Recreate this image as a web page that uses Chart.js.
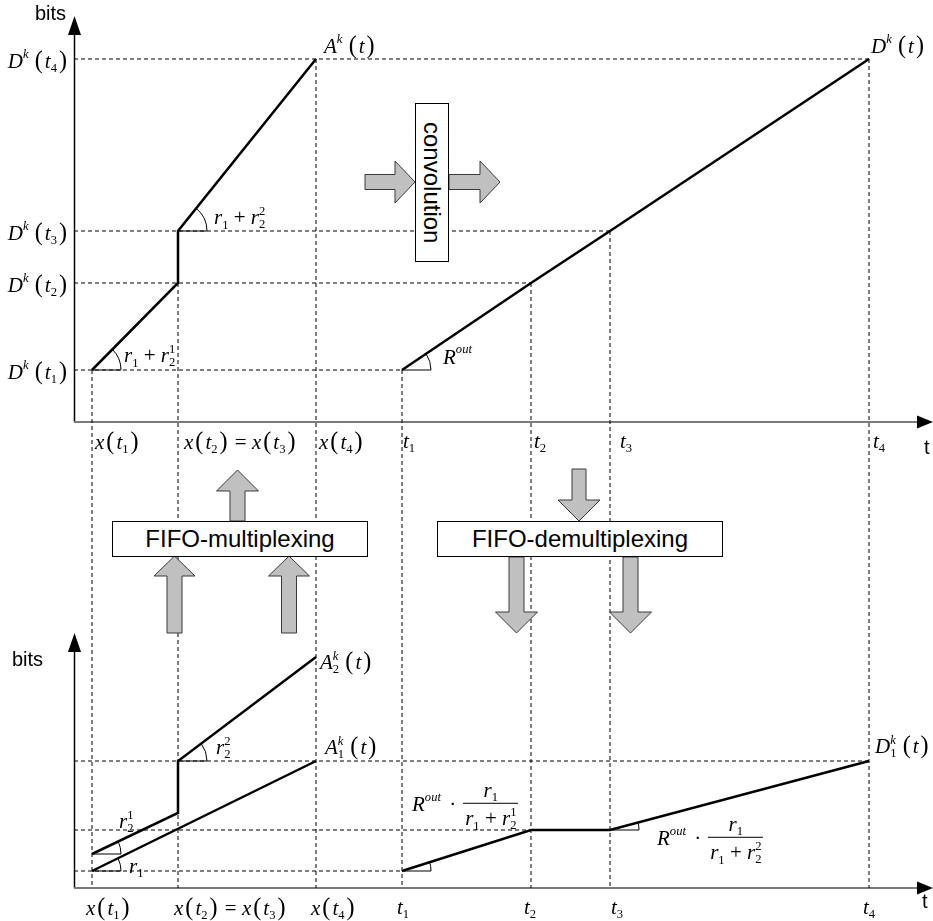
<!DOCTYPE html>
<html><head><meta charset="utf-8">
<script src="https://cdn.jsdelivr.net/npm/chart.js@4.4.1/dist/chart.umd.min.js"></script>
<style>
html,body{margin:0;padding:0;background:#fff}
#wrap{position:relative;width:933px;height:921px;overflow:hidden}
#c{position:absolute;left:0;top:0}
.lbl{position:absolute;white-space:nowrap;line-height:1;font-family:'Liberation Serif','Times New Roman',serif;font-size:21px;color:#000}
.lbl i{font-style:italic}
.lbl sup{font-size:0.6em;vertical-align:0.8em;line-height:0}
.lbl sub{font-size:0.6em;vertical-align:-0.35em;line-height:0}
.lbl .ss{display:inline-flex;flex-direction:column;font-size:0.6em;line-height:1.05;vertical-align:0.75em}
.lbl .p{font-size:1.15em;margin:0 2px;font-style:normal}
.lbl .fr{display:inline-flex;flex-direction:column;align-items:center;vertical-align:middle;margin-left:3px}
.lbl .fr .num{padding-bottom:2px}
.lbl .fr .den{border-top:1px solid #000;padding:2px 2px 0}
.lbl .op{margin:0 4px}
.sans{position:absolute;font-family:'Liberation Sans',Arial,sans-serif;font-size:20px;line-height:1;white-space:nowrap;color:#000}
.box{position:absolute;background:#fff;border:1px solid #000;box-sizing:border-box;display:flex;align-items:center;justify-content:center;font-family:'Liberation Sans',Arial,sans-serif;font-size:24px;color:#000}
.vert{writing-mode:vertical-rl}
svg{position:absolute;left:0;top:0}
</style></head>
<body>
<div id="wrap">
<canvas id="c" width="933" height="921"></canvas>
<svg id="arrows" width="933" height="921"></svg>
<div class="box vert" style="left:415px;top:103px;width:34px;height:159px">convolution</div>
<div class="box" style="left:112px;top:521px;width:256px;height:36px">FIFO-multiplexing</div>
<div class="box" style="left:437px;top:521px;width:286px;height:36px">FIFO-demultiplexing</div>
<div id="labels"></div>
</div>
<script>
// ---------- data (time units / bit units) ----------
const X_POINTS = [1.8, 10.4, 24.2];            // x(t1), x(t2)=x(t3), x(t4)
const T_POINTS = [32.8, 45.7, 53.6, 79.5];     // t1 .. t4
const D_LEVELS = [5.2, 13.9, 19.1, 36.3];      // D^k(t1) .. D^k(t4)
const A_K   = [5.2, 13.9, 19.1, 36.3];         // A^k at x(t1), x(t2), x(t3), x(t4)
const D_K   = [5.2, 13.9, 19.1, 36.3];         // D^k at t1 .. t4
const A1_K  = [1.7, 12.7];                     // A_1^k at x(t1), x(t4)
const A2_K  = [3.4, 7.5, 12.7, 23.1];          // A_2^k at x(t1), x(t2), x(t3), x(t4)
const D1_K  = [1.7, 5.8, 5.8, 12.7];           // D_1^k at t1 .. t4
const Y_TICK_LABELS = ['D^{k} (t_{1})', 'D^{k} (t_{2})', 'D^{k} (t_{3})', 'D^{k} (t_{4})'];
const X_TICK_LABELS = ['x(t_{1})', 'x(t_{2})=x(t_{3})', 'x(t_{4})', 't_{1}', 't_{2}', 't_{3}', 't_{4}'];

// ---------- axes extents ----------
const X_MAX = 85.9, TOP_MIN = -46.6, TOP_MAX = 40.8, BOT_MAX = 87.4;
const TOP_AXIS_TIP = 40.6, BOT_AXIS_TIP = 25.5, X_AXIS_TIP = 85.9;

// ---------- tiny math formatter ----------
function tex(s){
  let i=0,out='';
  const grp=()=>{ if(s[i]==='{'){let d=1,j=i+1;while(d>0){if(s[j]==='{')d++;else if(s[j]==='}')d--;j++;}const g=s.slice(i+1,j-1);i=j;return g;} return s[i++]; };
  while(i<s.length){
    const c=s[i];
    if(c==='\\'){ let j=i+1; while(j<s.length&&/[a-z]/.test(s[j]))j++; const cmd=s.slice(i+1,j); i=j;
      if(cmd==='frac'){const a=grp(),b=grp(); out+=`<span class="fr"><span class="num">${tex(a)}</span><span class="den">${tex(b)}</span></span>`;}
      else if(cmd==='cdot'){ out+='<span class="op">·</span>'; }
      continue; }
    if(c==='^'||c==='_'){ let sup=null,sub=null;
      while(s[i]==='^'||s[i]==='_'){const t=s[i++];const g=grp(); if(t==='^')sup=g; else sub=g;}
      if(sup!==null&&sub!==null) out+=`<span class="ss"><span>${tex(sup)}</span><span>${tex(sub)}</span></span>`;
      else if(sup!==null) out+=`<sup>${tex(sup)}</sup>`; else out+=`<sub>${tex(sub)}</sub>`;
      continue; }
    if(/[A-Za-z]/.test(c)){ out+=`<i>${c}</i>`; i++; continue; }
    if(c==='('||c===')'){ out+=`<span class="p">${c}</span>`; i++; continue; }
    if(c===' '){ out+='\u2009'; i++; continue; }
    if(c==='+'||c==='='){ out+=`\u2005${c}\u2005`; i++; continue; }
    out+=c; i++;
  }
  return out;
}

// ---------- datasets ----------
const P=(xs,ys)=>xs.map((x,k)=>({x,y:ys[k]}));
const solid=(label,data,axis)=>({label,data,yAxisID:axis,showLine:true,pointRadius:0,borderColor:'#000',borderWidth:2.5,tension:0,fill:false,clip:false,order:1});
const dashed=(label,data,axis)=>({label,data,yAxisID:axis,showLine:true,pointRadius:0,borderColor:'#000',borderWidth:1,borderDash:[4,3],tension:0,fill:false,clip:false,order:10});

const datasets=[];
// top guides
D_LEVELS.forEach((v,k)=>datasets.push(dashed('hTop'+k,[{x:0,y:v},{x:T_POINTS[k],y:v}],'yTop')));
const xFrom=[D_LEVELS[0],D_LEVELS[1],D_LEVELS[3]];
X_POINTS.forEach((x,k)=>datasets.push(dashed('vX'+k,[{x,y:xFrom[k]},{x,y:TOP_MIN}],'yTop')));
T_POINTS.forEach((x,k)=>datasets.push(dashed('vT'+k,[{x,y:D_LEVELS[k]},{x,y:TOP_MIN}],'yTop')));
// bottom guides
[[D1_K[0],T_POINTS[0]],[D1_K[2],T_POINTS[2]],[D1_K[3],T_POINTS[3]]].forEach(([v,x],k)=>
  datasets.push(dashed('hBot'+k,[{x:0,y:v},{x,y:v}],'yBot')));
// curves
datasets.push(solid('Ak',P([X_POINTS[0],X_POINTS[1],X_POINTS[1],X_POINTS[2]],A_K),'yTop'));
datasets.push(solid('Dk',P(T_POINTS,D_K),'yTop'));
datasets.push(solid('A1k',P([X_POINTS[0],X_POINTS[2]],A1_K),'yBot'));
datasets.push(solid('A2k',P([X_POINTS[0],X_POINTS[1],X_POINTS[1],X_POINTS[2]],A2_K),'yBot'));
datasets.push(solid('D1k',P(T_POINTS,D1_K),'yBot'));

// angle marks: [dataset label, vertex index]
const ANGLE_MARKS=[['Ak',0],['Ak',2],['Dk',0],['A1k',0],['A2k',0],['A2k',2],['D1k',0],['D1k',2]];

const drawPlugin={
  id:'diagram',
  beforeDatasetsDraw(chart){
    const ctx=chart.ctx, xs=chart.scales.x;
    const x0=xs.getPixelForValue(0), xe=xs.getPixelForValue(X_AXIS_TIP);
    [['yTop',TOP_AXIS_TIP],['yBot',BOT_AXIS_TIP]].forEach(([id,tip])=>{
      const ys=chart.scales[id], y0=ys.getPixelForValue(0), yt=ys.getPixelForValue(tip);
      ctx.save();
      ctx.strokeStyle='#000'; ctx.lineWidth=1.5;
      ctx.beginPath(); ctx.moveTo(x0+0.5,y0); ctx.lineTo(x0+0.5,yt+10); ctx.stroke();
      ctx.strokeStyle='#7a7a7a'; ctx.lineWidth=2;
      ctx.beginPath(); ctx.moveTo(x0,y0); ctx.lineTo(xe-8,y0); ctx.stroke();
      ctx.restore();
    });
  },
  afterDatasetsDraw(chart){
    const ctx=chart.ctx, xs=chart.scales.x;
    const x0=xs.getPixelForValue(0), xe=xs.getPixelForValue(X_AXIS_TIP);
    ctx.save(); ctx.fillStyle='#000';
    [['yTop',TOP_AXIS_TIP],['yBot',BOT_AXIS_TIP]].forEach(([id,tip])=>{
      const ys=chart.scales[id], y0=ys.getPixelForValue(0), yt=ys.getPixelForValue(tip);
      ctx.beginPath(); ctx.moveTo(x0+0.5,yt); ctx.lineTo(x0+7,yt+19); ctx.lineTo(x0-6,yt+19); ctx.closePath(); ctx.fill();
      ctx.beginPath(); ctx.moveTo(xe,y0); ctx.lineTo(xe-16,y0-6.5); ctx.lineTo(xe-16,y0+6.5); ctx.closePath(); ctx.fill();
    });
    // angle arcs
    ctx.strokeStyle='#000'; ctx.lineWidth=1;
    ANGLE_MARKS.forEach(([lab,idx])=>{
      const di=chart.data.datasets.findIndex(d=>d.label===lab);
      const pts=chart.getDatasetMeta(di).data;
      const a=pts[idx], b=pts[idx+1];
      const ang=Math.atan2(b.y-a.y,b.x-a.x), r=29;
      ctx.beginPath(); ctx.moveTo(a.x,a.y); ctx.lineTo(a.x+r,a.y); ctx.stroke();
      ctx.beginPath(); ctx.arc(a.x,a.y,r,ang,0); ctx.stroke();
    });
    ctx.restore();
  }
};

const chart=new Chart(document.getElementById('c'),{
  type:'scatter',
  data:{datasets},
  options:{
    responsive:false, animation:false, devicePixelRatio:1, events:[],
    layout:{padding:{left:74,right:0,top:14,bottom:33}},
    plugins:{legend:{display:false},tooltip:{enabled:false}},
    scales:{
      x:{type:'linear',min:0,max:X_MAX,display:false},
      yTop:{type:'linear',position:'left',min:TOP_MIN,max:TOP_MAX,display:false},
      yBot:{type:'linear',position:'left',min:0,max:BOT_MAX,display:false}
    }
  },
  plugins:[drawPlugin]
});

// ---------- labels ----------
const L=document.getElementById('labels');
function put(html,x,y,anchor,cls){
  const d=document.createElement('div'); d.className=cls||'lbl'; d.innerHTML=html;
  d.style.left=x+'px'; d.style.top=y+'px';
  d.style.transform=anchor==='r'?'translate(-100%,-50%)':anchor==='c'?'translate(-50%,-50%)':'translate(0,-50%)';
  L.appendChild(d);
}
const xs=chart.scales.x, yT=chart.scales.yTop, yB=chart.scales.yBot;
const x0=xs.getPixelForValue(0);
Y_TICK_LABELS.forEach((t,k)=>put(tex(t),x0-5,yT.getPixelForValue(D_LEVELS[k])+1,'r'));
const XTICK_VALUES=[...X_POINTS,...T_POINTS];
const TOP_DX=[3,6,3,1,3,10,4], BOT_DX=[-6,-4,-5,-5,-7,1,-6];
X_TICK_LABELS.forEach((t,k)=>{
  const px=xs.getPixelForValue(XTICK_VALUES[k]);
  put(tex(t),px+TOP_DX[k],yT.getPixelForValue(0)+19,'l');
  put(tex(t),px+BOT_DX[k],yB.getPixelForValue(0)+19,'l');
});
// annotations
put(tex('A^{k} (t)'),324,45,'l');
put(tex('D^{k} (t)'),871,45,'l');
put(tex('r_{1}+r_{2}^{2}'),214,218,'l');
put(tex('r_{1}+r_{2}^{1}'),124,356,'l');
put(tex('R^{out}'),443,357,'l');
put(tex('A_{2}^{k} (t)'),320,662,'l');
put(tex('A_{1}^{k} (t)'),325,747,'l');
put(tex('r_{2}^{2}'),216,748,'l');
put(tex('r_{2}^{1}'),119,822,'l');
put(tex('r_{1}'),129,866,'l');
put(tex('D_{1}^{k} (t)'),875,746,'l');
put(tex('R^{out} \\cdot\\frac{r_{1}}{r_{1}+r_{2}^{1}}'),412,806,'l');
put(tex('R^{out} \\cdot\\frac{r_{1}}{r_{1}+r_{2}^{2}}'),657,840,'l');
put('bits',35,13,'l','sans');
put('bits',12,659,'l','sans');
put('t',924,447,'l','sans');
put('t',922,901,'l','sans');

// ---------- block arrows ----------
const svg=document.getElementById('arrows');
function poly(pts){
  const p=document.createElementNS('http://www.w3.org/2000/svg','polygon');
  p.setAttribute('points',pts.map(q=>q.join(',')).join(' '));
  p.setAttribute('fill','#c0c0c0'); p.setAttribute('stroke','#3a3a3a'); p.setAttribute('stroke-width','1');
  svg.appendChild(p);
}
function vArrow(cx,tip,base,tail,hh,sh){ poly([[cx,tip],[cx+hh,base],[cx+sh,base],[cx+sh,tail],[cx-sh,tail],[cx-sh,base],[cx-hh,base]]); }
function hArrow(cy,tip,base,tail,hh,sh){ poly([[tip,cy],[base,cy+hh],[base,cy+sh],[tail,cy+sh],[tail,cy-sh],[base,cy-sh],[base,cy-hh]]); }
vArrow(237.5,470,491,521,21,7.5);
vArrow(174.5,556,576,633,20.5,7.5);
vArrow(289,556,576,633,20.5,7.5);
vArrow(579,521,500,469,21,7);
vArrow(516.5,633,612,557,21,7.5);
vArrow(630.5,633,612,557,21,7.5);
hArrow(182,415,395,365,21,7.5);
hArrow(182,500,480,449,21,7.5);
</script>
</body></html>
